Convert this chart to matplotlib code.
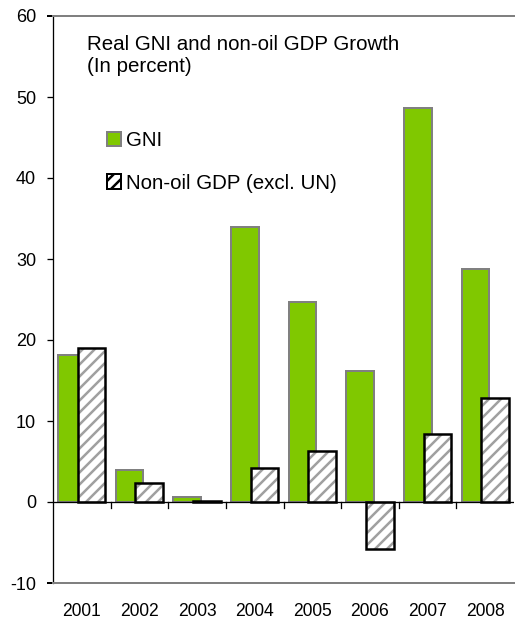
import matplotlib.pyplot as plt
import numpy as np
from matplotlib.patches import Patch

# A 72 dpi, 1 punto = 1 pixel
plt.rcParams['font.family'] = ['Liberation Sans', 'DejaVu Sans']
plt.rcParams['hatch.linewidth'] = 2.5
plt.rcParams['axes.unicode_minus'] = False

# Datos del grafico
years = ["2001", "2002", "2003", "2004", "2005", "2006", "2007", "2008"]
gni = [18.2, 4.0, 0.65, 34.0, 24.7, 16.2, 48.6, 28.8]
non_oil_gdp = [19.0, 2.4, 0.1, 4.2, 6.3, -5.8, 8.4, 12.8]

green = "#80C800"
gray = "#808080"
x = np.arange(len(years))
width = 0.48
offset = 0.17

W, H = 515, 623
fig = plt.figure(figsize=(W / 72, H / 72), dpi=72)
ax = fig.add_axes([53 / W, 1 - 583 / H, (514 - 53) / W, (583 - 16) / H])

# Barras GNI
ax.bar(x - offset, gni, width, color=green, edgecolor=gray, linewidth=2, zorder=2)

# Barras non-oil GDP: rayado gris y borde negro
ax.bar(x + offset, non_oil_gdp, width, color="white", edgecolor="#a0a0a0",
       linewidth=0, hatch="//", zorder=3)
ax.bar(x + offset, non_oil_gdp, width, fill=False, edgecolor="black",
       linewidth=2.5, zorder=4)

# Linea del cero y marcas entre categorias
ax.axhline(0, color="black", linewidth=1.3, zorder=5)
for xb in x[:-1] + 0.5:
    ax.plot([xb, xb], [0, -0.7], color="black", linewidth=1.3, zorder=5)

ax.set_xlim(-0.5, len(years) - 0.5)
ax.set_ylim(-10, 60)
ax.set_yticks(range(-10, 61, 10))
ax.set_xticks(x)
ax.set_xticklabels(years)
ax.tick_params(axis="x", length=0, pad=20, labelsize=17.5)
ax.tick_params(axis="y", length=6, width=1.3, direction="out", labelsize=18, pad=11)

for side in ["top", "bottom"]:
    ax.spines[side].set_color(gray)
    ax.spines[side].set_linewidth(2)
ax.spines["right"].set_visible(False)
ax.spines["left"].set_color("black")
ax.spines["left"].set_linewidth(1.3)

# Las marcas de -10 y 60 continuan las lineas grises
yt = ax.yaxis.get_major_ticks()
for t in (yt[0], yt[-1]):
    t.tick1line.set_color(gray)
    t.tick1line.set_markeredgewidth(2)

# Titulo dentro del grafico
fig.text(87 / W, 1 - 50 / H, "Real GNI and non-oil GDP Growth",
         fontsize=20.5, va="baseline", ha="left")
fig.text(87 / W, 1 - 72 / H, "(In percent)",
         fontsize=20.5, va="baseline", ha="left")

# Leyenda
handles = [Patch(facecolor=green, edgecolor=gray, linewidth=2, label="GNI"),
           Patch(facecolor="white", edgecolor="black", linewidth=2, hatch="//",
                 label="Non-oil GDP (excl. UN)")]
ax.legend(handles=handles, loc="upper left", bbox_to_anchor=(107 / W, 1 - 131 / H),
          bbox_transform=fig.transFigure, frameon=False,
          fontsize=20.5, handlelength=0.7, handleheight=0.7, handletextpad=0.25,
          labelspacing=1.15, borderaxespad=0, borderpad=0)

plt.savefig("out.png", dpi=72)
